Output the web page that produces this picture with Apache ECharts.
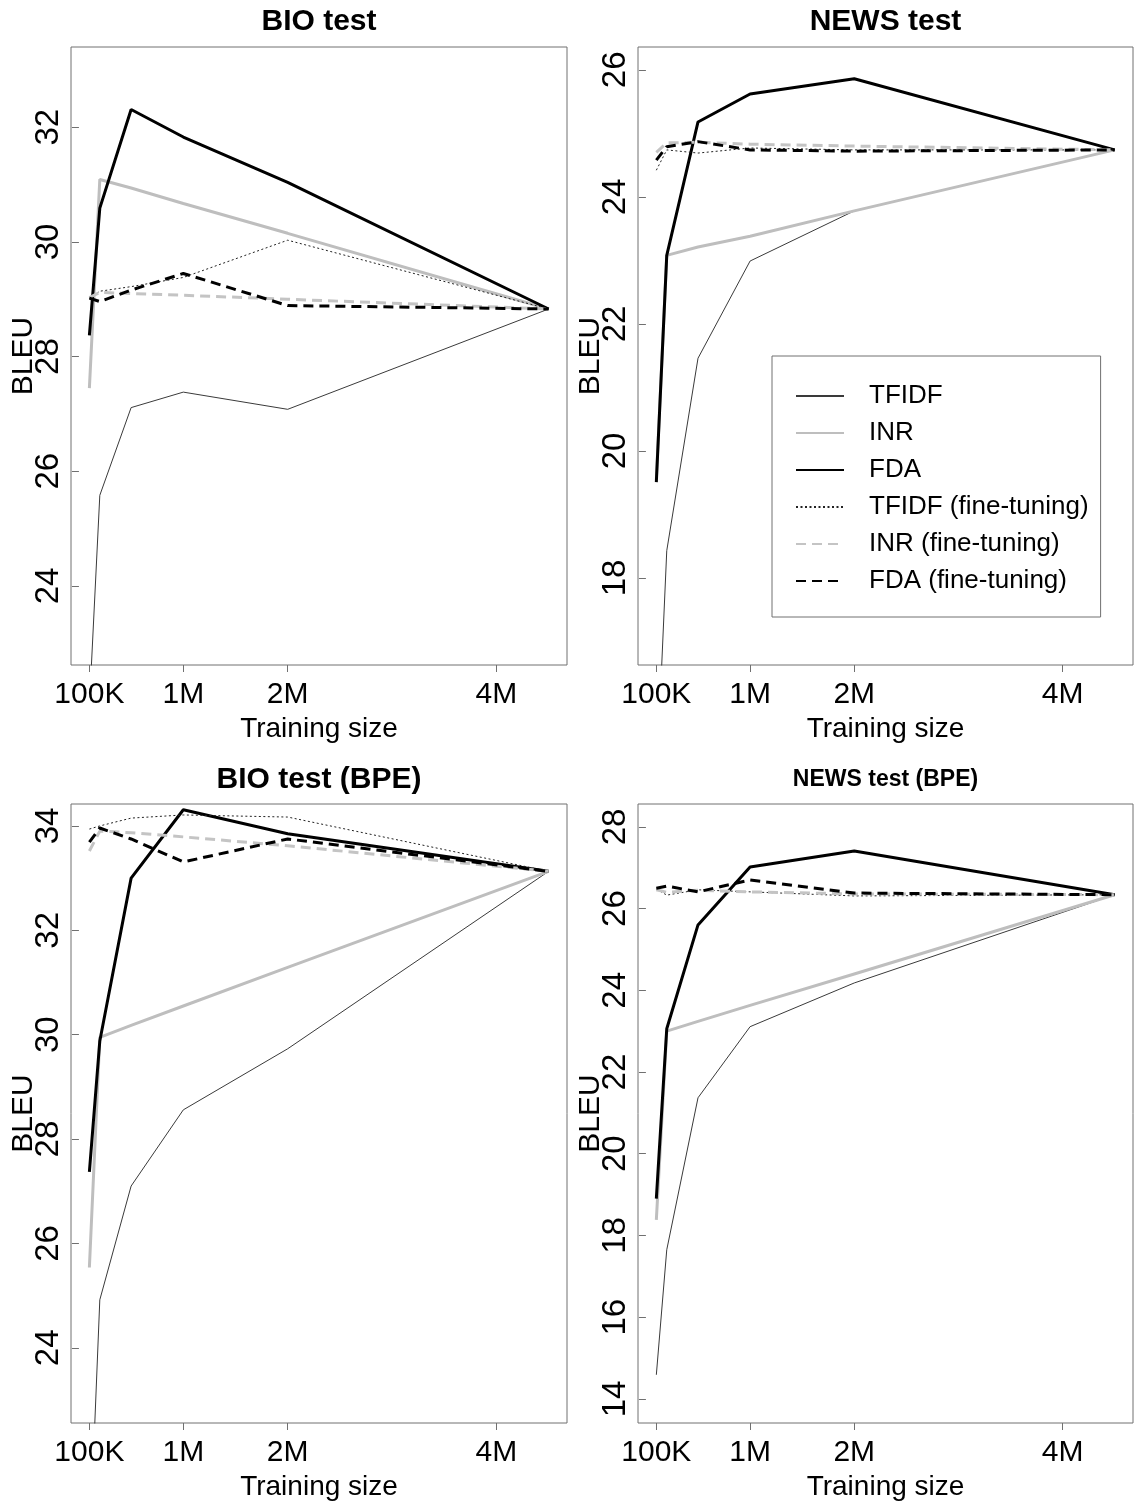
<!DOCTYPE html>
<html>
<head>
<meta charset="utf-8">
<script src="https://cdn.jsdelivr.net/npm/echarts@6/dist/echarts.min.js"></script>
<style>
html,body{margin:0;padding:0;background:#fff;}
#chart{width:1135px;height:1506px;}
</style>
</head>
<body>
<div id="chart"></div>
<script>
// ---- data (training size in millions of sentences) ----
const sizes = [0.1, 0.2, 0.5, 1, 2, 4.5];
const xTickValues = [0.1, 1, 2, 4];
const xTickLabels = ['100K', '1M', '2M', '4M'];
const seriesNames = ['TFIDF', 'INR', 'FDA', 'TFIDF (fine-tuning)', 'INR (fine-tuning)', 'FDA (fine-tuning)'];
const panelTitles = ['BIO test', 'NEWS test', 'BIO test (BPE)', 'NEWS test (BPE)'];

// BIO test
const bioTfidf   = [21.9, 25.58, 27.11, 27.38, 27.08, 28.83];
const bioInr     = [27.45, 31.09, 30.94, 30.67, 30.15, 28.83];
const bioFda     = [28.37, 30.59, 32.31, 31.83, 31.04, 28.83];
const bioTfidfFt = [29.02, 29.14, 29.22, 29.38, 30.03, 28.83];
const bioInrFt   = [29.03, 29.12, 29.10, 29.07, 29.00, 28.83];
const bioFdaFt   = [29.02, 28.96, 29.16, 29.45, 28.89, 28.83];
const bioYTicks  = [24, 26, 28, 30, 32];

// NEWS test
const newsTfidf   = [14.7, 18.43, 21.46, 22.99, 23.78, 24.74];
const newsInr     = [19.55, 23.08, 23.21, 23.38, 23.78, 24.74];
const newsFda     = [19.51, 23.08, 25.18, 25.62, 25.86, 24.74];
const newsTfidfFt = [24.42, 24.74, 24.69, 24.77, 24.74, 24.74];
const newsInrFt   = [24.70, 24.85, 24.86, 24.83, 24.80, 24.74];
const newsFdaFt   = [24.58, 24.79, 24.87, 24.74, 24.72, 24.74];
const newsYTicks  = [18, 20, 22, 24, 26];

// BIO test (BPE)
const bioBpeTfidf   = [20.0, 24.92, 27.10, 28.56, 29.73, 33.13];
const bioBpeInr     = [25.54, 29.95, 30.18, 30.55, 31.29, 33.13];
const bioBpeFda     = [27.37, 29.88, 33.00, 34.31, 33.85, 33.13];
const bioBpeTfidfFt = [33.94, 34.00, 34.15, 34.21, 34.17, 33.13];
const bioBpeInrFt   = [33.52, 33.90, 33.87, 33.79, 33.62, 33.13];
const bioBpeFdaFt   = [33.69, 33.96, 33.75, 33.31, 33.75, 33.13];
const bioBpeYTicks  = [24, 26, 28, 30, 32, 34];

// NEWS test (BPE)
const newsBpeTfidf   = [14.59, 17.65, 21.37, 23.11, 24.18, 26.34];
const newsBpeInr     = [18.38, 23.00, 23.24, 23.63, 24.40, 26.34];
const newsBpeFda     = [18.90, 23.06, 25.60, 27.02, 27.41, 26.34];
const newsBpeTfidfFt = [26.48, 26.33, 26.46, 26.41, 26.31, 26.34];
const newsBpeInrFt   = [26.46, 26.40, 26.45, 26.41, 26.36, 26.34];
const newsBpeFdaFt   = [26.50, 26.55, 26.41, 26.70, 26.38, 26.34];
const newsBpeYTicks  = [14, 16, 18, 20, 22, 24, 26, 28];

// ---- layout / style ----
const FONT = "'Liberation Sans',Arial,Helvetica,sans-serif";
const panels = [
  {title: panelTitles[0], titleSize: 30, titleTop: 7, grid: {left: 71, top: 47, width: 496, height: 618}, yMin: 22.62, yMax: 33.40, yTicks: bioYTicks,
   data: [bioTfidf, bioInr, bioFda, bioTfidfFt, bioInrFt, bioFdaFt]},
  {title: panelTitles[1], titleSize: 30, titleTop: 7, grid: {left: 638, top: 47, width: 495, height: 618}, yMin: 16.63, yMax: 26.36, yTicks: newsYTicks,
   data: [newsTfidf, newsInr, newsFda, newsTfidfFt, newsInrFt, newsFdaFt]},
  {title: panelTitles[2], titleSize: 30, titleTop: 765, grid: {left: 71, top: 804, width: 496, height: 619}, yMin: 22.56, yMax: 34.42, yTicks: bioBpeYTicks,
   data: [bioBpeTfidf, bioBpeInr, bioBpeFda, bioBpeTfidfFt, bioBpeInrFt, bioBpeFdaFt]},
  {title: panelTitles[3], titleSize: 23, titleTop: 768, grid: {left: 638, top: 804, width: 495, height: 619}, yMin: 13.41, yMax: 28.56, yTicks: newsBpeYTicks,
   data: [newsBpeTfidf, newsBpeInr, newsBpeFda, newsBpeTfidfFt, newsBpeInrFt, newsBpeFdaFt]}
];
const lineStyles = [
  {color: '#3a3a3a', width: 1, type: 'solid'},
  {color: '#bebebe', width: 3, type: 'solid'},
  {color: '#000000', width: 3, type: 'solid'},
  {color: '#222222', width: 1, type: [2, 2.5]},
  {color: '#c4c4c4', width: 3, type: [10, 6]},
  {color: '#000000', width: 3, type: [10, 6]}
];
const AXIS_COLOR = '#707070';

const chart = echarts.init(document.getElementById('chart'), null, {renderer: 'canvas'});
const option = {
  animation: false,
  backgroundColor: '#ffffff',
  textStyle: {fontFamily: FONT},
  title: panels.map(p => ({
    text: p.title,
    left: p.grid.left + p.grid.width / 2,
    textAlign: 'center',
    top: p.titleTop,
    padding: 0,
    textStyle: {fontFamily: FONT, fontWeight: 'bold', fontSize: p.titleSize, color: '#000'}
  })),
  grid: panels.map(p => Object.assign({show: true, borderColor: AXIS_COLOR, borderWidth: 1, backgroundColor: 'transparent',
    containLabel: false, outerBoundsMode: 'none'}, p.grid)),
  xAxis: panels.map((p, i) => ({
    type: 'value', gridIndex: i, min: -0.076, max: 4.676,
    name: 'Training size', nameLocation: 'middle', nameGap: 50, nameMoveOverlap: false,
    nameTextStyle: {fontFamily: FONT, fontSize: 28, color: '#000'},
    axisLine: {show: false},
    splitLine: {show: false},
    axisTick: {show: true, length: 7, lineStyle: {color: AXIS_COLOR}, customValues: xTickValues},
    axisLabel: {show: true, fontSize: 30, color: '#000', margin: 15, fontFamily: FONT,
      customValues: xTickValues,
      formatter: v => { const k = xTickValues.findIndex(t => Math.abs(t - v) < 1e-6); return k >= 0 ? xTickLabels[k] : ''; }}
  })),
  yAxis: panels.map((p, i) => ({
    type: 'value', gridIndex: i, min: p.yMin, max: p.yMax,
    name: 'BLEU', nameLocation: 'middle', nameGap: 32, nameRotate: 90, nameMoveOverlap: false,
    nameTextStyle: {fontFamily: FONT, fontSize: 30, color: '#000'},
    axisLine: {show: false},
    splitLine: {show: false},
    axisTick: {show: true, length: 7, lineStyle: {color: AXIS_COLOR}, customValues: p.yTicks},
    axisLabel: {show: true, fontSize: 33, color: '#000', margin: 6, rotate: 90, fontFamily: FONT,
      customValues: p.yTicks, formatter: v => String(Math.round(v))}
  })),
  legend: {
    show: true,
    data: seriesNames,
    orient: 'vertical',
    left: 772, top: 356,
    padding: [25, 12, 21, 23],
    itemWidth: 48, itemHeight: 14, itemGap: 7,
    borderColor: AXIS_COLOR, borderWidth: 1, borderRadius: 0,
    backgroundColor: '#fff',
    selectedMode: false,
    itemStyle: {opacity: 0},
    textStyle: {fontFamily: FONT, fontSize: 26, lineHeight: 30, color: '#000', padding: [0, 0, 0, 20]}
  },
  series: []
};
panels.forEach((p, i) => {
  p.data.forEach((vals, s) => {
    option.series.push({
      type: 'line', name: seriesNames[s], xAxisIndex: i, yAxisIndex: i,
      data: sizes.map((x, k) => [x, vals[k]]),
      showSymbol: false, symbol: 'none', clip: true, silent: true,
      lineStyle: Object.assign({}, lineStyles[s]),
      itemStyle: {color: lineStyles[s].color},
      emphasis: {disabled: true}
    });
  });
});
chart.setOption(option);
</script>
</body>
</html>
